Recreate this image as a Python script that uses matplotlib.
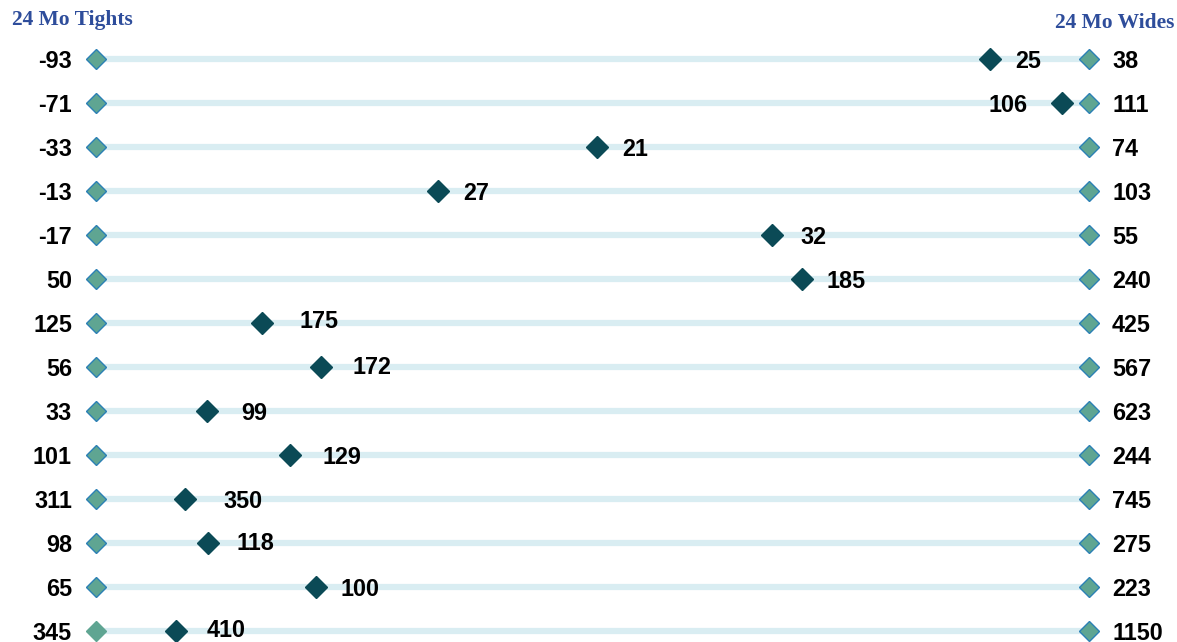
import matplotlib
matplotlib.use('Agg')
import matplotlib.pyplot as plt
import numpy as np

# 24 mo tights / current / 24 mo wides, top to bottom
tights = [-93, -71, -33, -13, -17, 50, 125, 56, 33, 101, 311, 98, 65, 345]
current = [25, 106, 21, 27, 32, 185, 175, 172, 99, 129, 350, 118, 100, 410]
wides = [38, 111, 74, 103, 55, 240, 425, 567, 623, 244, 745, 275, 223, 1150]

# label placement tweaks for the current value (pixels)
label_dx = [25, -34, 25, 25, 29, 25, 38, 31, 34, 32, 38, 28, 25, 30]
label_dy = [0, 0, 0, 0, 0, 0, 4, 2, 0, 0, 0, 2, 0, 3]

W, H = 1177, 642
fig = plt.figure(figsize=(W / 100, H / 100), dpi=100)
x0, x1 = 96, 1089
row0, step = 59, 44
ax = fig.add_axes([x0 / W, 0, (x1 - x0) / W, 1])
ax.set_xlim(0, 1)
ax.set_ylim((H - row0) / step, -row0 / step)
ax.axis('off')

line_c = '#d9edf2'
end_face = '#5fa592'
end_edge = '#2b80b5'
mid_c = '#0b4a56'
num_font = dict(family='Liberation Sans', fontsize=16.8, fontweight='bold', color='black')

n = len(tights)
y = np.arange(n)
frac = (np.array(current) - np.array(tights)) / (np.array(wides) - np.array(tights))

for i in range(n):
    ax.plot([0, 1], [y[i], y[i]], color=line_c, lw=4.5, solid_capstyle='butt', zorder=1)
    ec_left = end_face if i == n - 1 else end_edge
    ax.plot(0, y[i], marker='D', ms=10, mfc=end_face, mec=ec_left, mew=1, zorder=3, clip_on=False)
    ax.plot(1, y[i], marker='D', ms=10, mfc=end_face, mec=end_edge, mew=1, zorder=3, clip_on=False)
    ax.plot(frac[i], y[i], marker='D', ms=11, mfc=mid_c, mec=mid_c, zorder=4, clip_on=False)

    ax.annotate(str(tights[i]), (0, y[i]), xytext=(-24, 0), textcoords='offset pixels',
                ha='right', va='center_baseline', annotation_clip=False, **num_font)
    ax.annotate(str(wides[i]), (1, y[i]), xytext=(23, 0), textcoords='offset pixels',
                ha='left', va='center_baseline', annotation_clip=False, **num_font)
    ha = 'right' if label_dx[i] < 0 else 'left'
    ax.annotate(str(current[i]), (frac[i], y[i]), xytext=(label_dx[i], label_dy[i]),
                textcoords='offset pixels', ha=ha, va='center_baseline',
                annotation_clip=False, **num_font)

head_font = dict(family='Liberation Serif', fontsize=15.5, fontweight='bold', color='#2e4d9b')
fig.text(12 / W, 1 - 20 / H, '24 Mo Tights', ha='left', va='center', **head_font)
fig.text(1 - 3 / W, 1 - 23 / H, '24 Mo Wides', ha='right', va='center', **head_font)

fig.savefig('out.png', dpi=100, facecolor='white')
